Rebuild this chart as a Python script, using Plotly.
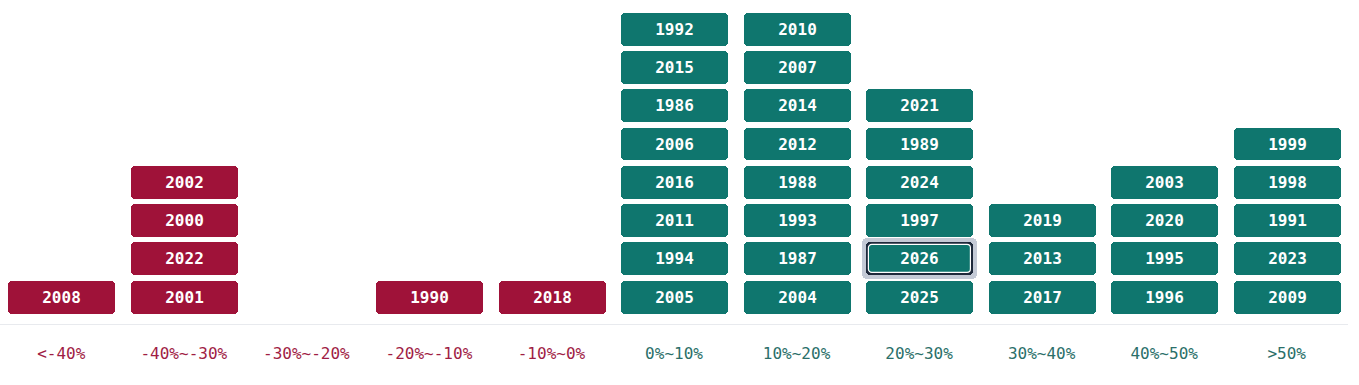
import plotly.graph_objects as go

categories = ["<-40%", "-40%~-30%", "-30%~-20%", "-20%~-10%", "-10%~0%",
              "0%~10%", "10%~20%", "20%~30%", "30%~40%", "40%~50%", ">50%"]
negative = [True, True, True, True, True, False, False, False, False, False, False]
# years stacked bottom -> top in each bucket
years = [
    [2008],
    [2001, 2022, 2000, 2002],
    [],
    [1990],
    [2018],
    [2005, 1994, 2011, 2016, 2006, 1986, 2015, 1992],
    [2004, 1987, 1993, 1988, 2012, 2014, 2007, 2010],
    [2025, 2026, 1997, 2024, 1989, 2021],
    [2017, 2013, 2019],
    [1996, 1995, 2020, 2003],
    [2009, 2023, 1991, 1998, 1999],
]
highlight_year = 2026

RED = "#9f1239"
TEAL = "#0f766e"
RED_TXT = "#9f1d45"
TEAL_TXT = "#2b6f69"
FONT = "DejaVu Sans Mono"

W, H = 1359, 385
ML, MR, MT, MB = 0, 11, 10, 61
YMAX = 8.0
YMIN = -0.2
px_x = (W - ML - MR) / len(categories)
px_y = (H - MT - MB) / (YMAX - YMIN)

BAR_W = 107 / px_x
PAD = 0.07
BAR_H = 1 - 2 * PAD

fig = go.Figure()

for neg, color in [(True, RED), (False, TEAL)]:
    xs, bases, hs, texts = [], [], [], []
    for i, col in enumerate(years):
        if negative[i] != neg:
            continue
        for r, yr in enumerate(col):
            xs.append(i + 0.005)
            bases.append(r + PAD)
            hs.append(BAR_H)
            texts.append(f"<b>{yr}</b>")
    fig.add_trace(go.Bar(
        x=xs, y=hs, base=bases, width=BAR_W, text=texts,
        marker=dict(color=color, cornerradius=4, line=dict(width=0)),
        textposition="inside", insidetextanchor="middle", textangle=0,
        textfont=dict(family=FONT, size=16, color="white"),
        constraintext="none", hoverinfo="skip", showlegend=False,
    ))

# highlight ring for the current year
for i, col in enumerate(years):
    if highlight_year in col:
        r = col.index(highlight_year)
        color = RED if negative[i] else TEAL
        layers = [
            (4, "#c4cad6", 0, None),
            (0, "#1e293b", 0, None),
            (-2.5, color, 1.2, "white"),
        ]
        for grow, c, lw, lc in layers:
            fig.add_trace(go.Bar(
                x=[i + 0.005], y=[BAR_H + 2 * grow / px_y], base=[r + PAD - grow / px_y],
                width=BAR_W + 2 * grow / px_x,
                marker=dict(color=c, cornerradius=5 if grow > 0 else 4,
                            line=dict(width=lw, color=lc or c)),
                hoverinfo="skip", showlegend=False,
                text=[f"<b>{highlight_year}</b>" if grow < 0 else ""],
                textposition="inside", insidetextanchor="middle", textangle=0,
                textfont=dict(family=FONT, size=16, color="white"),
                constraintext="none",
            ))

ticktext = []
for cat, neg in zip(categories, negative):
    t = cat.replace("<", "&lt;").replace(">", "&gt;")
    ticktext.append(f'<span style="color:{RED_TXT if neg else TEAL_TXT}">{t}</span>')

fig.update_layout(
    width=W, height=H,
    margin=dict(l=ML, r=MR, t=MT, b=MB, pad=0),
    barmode="overlay",
    bargap=0,
    plot_bgcolor="white", paper_bgcolor="white",
    hovermode=False,
    font=dict(family=FONT, size=16),
    xaxis=dict(
        range=[-0.5, len(categories) - 0.5],
        tickmode="array", tickvals=list(range(len(categories))), ticktext=ticktext,
        showgrid=False, zeroline=False, showline=True, linecolor="#e8eaee", linewidth=1,
        ticks="outside", ticklen=15, tickcolor="rgba(0,0,0,0)",
        tickfont=dict(family=FONT, size=16),
        fixedrange=True,
    ),
    yaxis=dict(range=[YMIN, YMAX], visible=False, showgrid=False, zeroline=False, fixedrange=True),
)

fig.write_html("out.html", config={"displayModeBar": False})
